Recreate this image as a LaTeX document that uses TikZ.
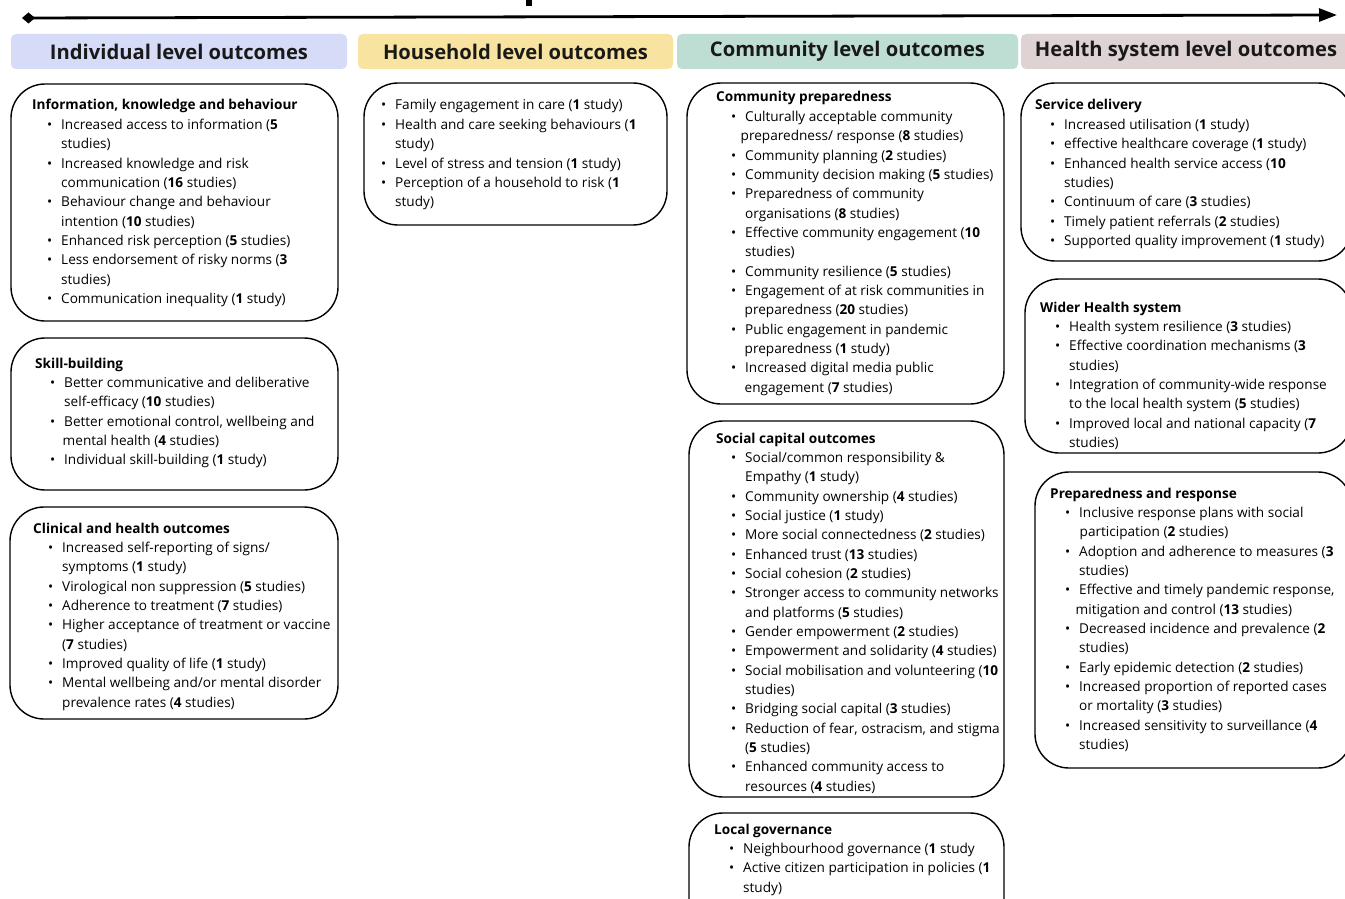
\documentclass[tikz,border=0pt]{standalone}
\usepackage{fontspec}
\setmainfont{Open Sans}
\usetikzlibrary{arrows.meta}
\definecolor{cind}{RGB}{214,220,247}
\definecolor{chh}{RGB}{248,228,160}
\definecolor{ccom}{RGB}{190,222,212}
\definecolor{chs}{RGB}{222,210,210}
\newcommand\bl{\hspace*{15pt}\makebox[14pt][l]{\textbullet}}
\newcommand\ct[1][29pt]{\hspace*{#1}}
\newcommand\bx[2]{\parbox[t]{#1}{\raggedright\fontsize{13.6}{19.35}\selectfont #2}}
\tikzset{
  hdr/.style={rounded corners=5pt, inner sep=0pt, font=\fontsize{20.2}{23}\selectfont\bfseries, text=black!90},
  outbox/.style={draw=black, line width=1.4pt, rounded corners=34pt},
  txt/.style={anchor=base west, inner sep=0pt}
}
\begin{document}
\begin{tikzpicture}[x=1pt,y=-1pt]
\useasboundingbox (0,0) rectangle (1345,899);
\clip (0,0) rectangle (1345,899);
\fill[white] (0,0) rectangle (1345,899);
% title fragment and arrow
\fill[black] (526,0) rectangle (532,6);
\coordinate (as) at (22,18);
\coordinate (ae) at (1337,15);
\draw[line width=2.8pt, {Diamond[length=13pt,width=11pt]}-{Triangle[length=18pt,width=13pt]}] (as) -- (ae);
% headers
\node[hdr, fill=cind, minimum width=336pt, minimum height=35pt] (h1) at (179,51.5) {Individual level outcomes};
\node[hdr, fill=chh, minimum width=315pt, minimum height=35pt] (h2) at (515.5,51.5) {Household level outcomes};
\node[hdr, fill=ccom, minimum width=341pt, minimum height=35pt] (h3) at (847.5,51.5) {Community level outcomes};
\node[hdr, fill=chs, minimum width=330pt, minimum height=35pt] (h4) at (1186,51.5) {Health system level outcomes};
% outline boxes
\draw[outbox] (11,84) rectangle (338,321);
\draw[outbox] (11,338) rectangle (338,490);
\draw[outbox] (10,507) rectangle (338,719);
\draw[outbox] (364,83) rectangle (667,225);
\draw[outbox] (687,83) rectangle (1004,404);
\draw[outbox] (689,421) rectangle (1004,797);
\draw[outbox] (689,813) rectangle (1004,935);
\draw[outbox] (1021,83) rectangle (1352,261);
\draw[outbox] (1025,279) rectangle (1352,453);
\draw[outbox] (1035,472) rectangle (1352,768);
% Individual
\node[txt] (t1) at (32,110) {\bx{320pt}{\textbf{Information, knowledge and behaviour}\\
\bl Increased access to information (\textbf{5}\\
\ct studies)\\
\bl Increased knowledge and risk\\
\ct communication (\textbf{16} studies)\\
\bl Behaviour change and behaviour\\
\ct intention (\textbf{10} studies)\\
\bl Enhanced risk perception (\textbf{5} studies)\\
\bl Less endorsement of risky norms (\textbf{3}\\
\ct studies)\\
\bl Communication inequality (\textbf{1} study)}};
\node[txt] (t2) at (35,368) {\bx{320pt}{\textbf{Skill-building}\\
\bl Better communicative and deliberative\\
\ct self-efficacy (\textbf{10} studies)\\
\bl Better emotional control, wellbeing and\\
\ct[24pt] mental health (\textbf{4} studies)\\
\bl Individual skill-building (\textbf{1} study)}};
\node[txt] (t3) at (33,533) {\bx{320pt}{\textbf{Clinical and health outcomes}\\
\bl Increased self-reporting of signs/\\
\ct symptoms (\textbf{1} study)\\
\bl Virological non suppression (\textbf{5} studies)\\
\bl Adherence to treatment (\textbf{7} studies)\\
\bl Higher acceptance of treatment or vaccine\\
\ct (\textbf{7} studies)\\
\bl Improved quality of life (\textbf{1} study)\\
\bl Mental wellbeing and/or mental disorder\\
\ct prevalence rates (\textbf{4} studies)}};
% Household
\node[txt] (t4) at (366,110) {\bx{320pt}{\bl Family engagement in care (\textbf{1} study)\\
\bl Health and care seeking behaviours (\textbf{1}\\
\ct study)\\
\bl Level of stress and tension (\textbf{1} study)\\
\bl Perception of a household to risk (\textbf{1}\\
\ct study)}};
% Community
\node[txt] (t5) at (716,102) {\bx{320pt}{\textbf{Community preparedness}\\
\bl Culturally acceptable community\\
\ct[21pt] preparedness/ response (\textbf{8} studies)\\
\bl Community planning (\textbf{2} studies)\\
\bl Community decision making (\textbf{5} studies)\\
\bl Preparedness of community\\
\ct organisations (\textbf{8} studies)\\
\bl Effective community engagement (\textbf{10}\\
\ct studies)\\
\bl Community resilience (\textbf{5} studies)\\
\bl Engagement of at risk communities in\\
\ct[25pt] preparedness (\textbf{20} studies)\\
\bl Public engagement in pandemic\\
\ct[25pt] preparedness (\textbf{1} study)\\
\bl Increased digital media public\\
\ct[25pt] engagement (\textbf{7} studies)}};
\node[txt] (t6) at (716,443) {\bx{320pt}{\textbf{Social capital outcomes}\\
\bl Social/common responsibility \&\\
\ct Empathy (\textbf{1} study)\\
\bl Community ownership (\textbf{4} studies)\\
\bl Social justice (\textbf{1} study)\\
\bl More social connectedness (\textbf{2} studies)\\
\bl Enhanced trust (\textbf{13} studies)\\
\bl Social cohesion (\textbf{2} studies)\\
\bl Stronger access to community networks\\
\ct and platforms (\textbf{5} studies)\\
\bl Gender empowerment (\textbf{2} studies)\\
\bl Empowerment and solidarity (\textbf{4} studies)\\
\bl Social mobilisation and volunteering (\textbf{10}\\
\ct studies)\\
\bl Bridging social capital (\textbf{3} studies)\\
\bl Reduction of fear, ostracism, and stigma\\
\ct (\textbf{5} studies)\\
\bl Enhanced community access to\\
\ct resources (\textbf{4} studies)}};
\node[txt] (t7) at (714,834) {\bx{320pt}{\textbf{Local governance}\\
\bl Neighbourhood governance (\textbf{1} study\\
\bl Active citizen participation in policies (\textbf{1}\\
\ct study)}};
% Health system
\node[txt] (t8) at (1035,110) {\bx{320pt}{\textbf{Service delivery}\\
\bl Increased utilisation (\textbf{1} study)\\
\bl effective healthcare coverage (\textbf{1} study)\\
\bl Enhanced health service access (\textbf{10}\\
\ct studies)\\
\bl Continuum of care (\textbf{3} studies)\\
\bl Timely patient referrals (\textbf{2} studies)\\
\bl Supported quality improvement (\textbf{1} study)}};
\node[txt] (t9) at (1040,312) {\bx{320pt}{\textbf{Wider Health system}\\
\bl Health system resilience (\textbf{3} studies)\\
\bl Effective coordination mechanisms (\textbf{3}\\
\ct studies)\\
\bl Integration of community-wide response\\
\ct to the local health system (\textbf{5} studies)\\
\bl Improved local and national capacity (\textbf{7}\\
\ct studies)}};
\node[txt] (t10) at (1050,498) {\bx{320pt}{\textbf{Preparedness and response}\\
\bl Inclusive response plans with social\\
\ct[26pt] participation (\textbf{2} studies)\\
\bl Adoption and adherence to measures (\textbf{3}\\
\ct studies)\\
\bl Effective and timely pandemic response,\\
\ct[22pt] mitigation and control (\textbf{13} studies)\\
\bl Decreased incidence and prevalence (\textbf{2}\\
\ct studies)\\
\bl Early epidemic detection (\textbf{2} studies)\\
\bl Increased proportion of reported cases\\
\ct or mortality (\textbf{3} studies)\\
\bl Increased sensitivity to surveillance (\textbf{4}\\
\ct studies)}};
\end{tikzpicture}
\end{document}
